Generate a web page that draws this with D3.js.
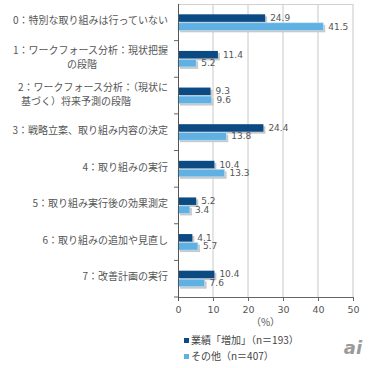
<!DOCTYPE html>
<html><head><meta charset="utf-8">
<script src="https://cdn.jsdelivr.net/npm/d3@7"></script>
<style>
body{margin:0;background:#fff;}
svg{display:block;}
</style></head>
<body><svg id="c" width="372" height="368"></svg>
<script>
const categories = [
  ["0：特別な取り組みは行っていない"],
  ["1：ワークフォース分析：現状把握","の段階"],
  ["2：ワークフォース分析：（現状に","基づく）将来予測の段階"],
  ["3：戦略立案、取り組み内容の決定"],
  ["4：取り組みの実行"],
  ["5：取り組み実行後の効果測定"],
  ["6：取り組みの追加や見直し"],
  ["7：改善計画の実行"]
];
const seriesNames = ["業績「増加」（n＝193）","その他（n＝407）"];
const increase = [24.9, 11.4, 9.3, 24.4, 10.4, 5.2, 4.1, 10.4];
const others = [41.5, 5.2, 9.6, 13.8, 13.3, 3.4, 5.7, 7.6];
const xTicks = [0, 10, 20, 30, 40, 50];
const colors = ["#0b4a83", "#5fb0e3"];

const svg = d3.select("#c");
const L = 178, R = 353, T = 4, B = 297;
const x = d3.scaleLinear().domain([0, 50]).range([L, R]);
const y = d3.scaleBand().domain(d3.range(categories.length)).range([T, B]);
const jp = "'Noto Sans CJK JP', sans-serif";
const num = "'DejaVu Sans', sans-serif";

// grid
svg.append("g").selectAll("line").data(xTicks.slice(1)).join("line")
  .attr("x1", d => x(d)).attr("x2", d => x(d)).attr("y1", T).attr("y2", B)
  .attr("stroke", "#c8c8c8").attr("stroke-width", 1);
svg.append("line").attr("x1", L).attr("x2", R).attr("y1", T + 0.5).attr("y2", T + 0.5)
  .attr("stroke", "#d0d0d0");

const bh = 7.5, gap = 1;
const rows = categories.map((c, i) => ({i, vals: [increase[i], others[i]]}));
const g = svg.append("g");
rows.forEach(r => {
  const cy = y(r.i) + y.bandwidth() / 2;
  r.vals.forEach((v, k) => {
    const by = k === 0 ? cy - bh - gap / 2 : cy + gap / 2;
    g.append("rect").attr("x", L + 2).attr("y", by + 2)
      .attr("width", x(v) - L).attr("height", bh).attr("fill", "#c9c9c9");
    g.append("rect").attr("x", L).attr("y", by)
      .attr("width", x(v) - L).attr("height", bh).attr("fill", colors[k])
      .attr("stroke", k === 1 ? "#bfe0f5" : "none").attr("stroke-width", 0.6);
    g.append("text").attr("x", x(v) + 5).attr("y", by + bh / 2 + 0.5)
      .attr("dominant-baseline", "middle")
      .attr("font-family", num).attr("font-size", 9).attr("fill", "#555")
      .text(v.toFixed(1));
  });
});

// axes
const xAxis = d3.axisBottom(x).tickValues(xTicks).tickSize(4).tickPadding(5);
const ax = svg.append("g").attr("transform", `translate(0,${B})`).call(xAxis);
ax.select(".domain").attr("stroke", "#666");
ax.selectAll(".tick line").attr("stroke", "#666");
ax.selectAll("text").attr("font-family", num).attr("font-size", 9.5).attr("fill", "#555");

const yTicks = d3.range(1, categories.length + 1).map(i => T + i * y.step());
svg.append("g").selectAll("line").data(yTicks).join("line")
  .attr("x1", L - 4).attr("x2", L).attr("y1", d => d).attr("y2", d => d)
  .attr("stroke", "#666");
svg.append("line").attr("x1", L + 0.5).attr("x2", L + 0.5).attr("y1", T).attr("y2", B + 4)
  .attr("stroke", "#555");

// category labels
const line2Center = {1: 82, 2: 76};
categories.forEach((lines, i) => {
  const cy = y(i) + y.bandwidth() / 2;
  if (lines.length === 1) {
    svg.append("text").attr("x", 168).attr("y", cy - 1).attr("text-anchor", "end")
      .attr("dominant-baseline", "middle")
      .attr("font-family", jp).attr("font-size", 10).attr("fill", "#555").text(lines[0]);
  } else {
    svg.append("text").attr("x", 168).attr("y", cy - 7.5).attr("text-anchor", "end")
      .attr("dominant-baseline", "middle")
      .attr("font-family", jp).attr("font-size", 10).attr("fill", "#555").text(lines[0]);
    svg.append("text").attr("x", line2Center[i]).attr("y", cy + 6.5).attr("text-anchor", "middle")
      .attr("dominant-baseline", "middle")
      .attr("font-family", jp).attr("font-size", 10).attr("fill", "#555").text(lines[1]);
  }
});

// unit
svg.append("text").attr("x", x(25)).attr("y", 326).attr("text-anchor", "middle")
  .attr("font-family", jp).attr("font-size", 10).attr("fill", "#555").text("（%）");

// legend
seriesNames.forEach((n, k) => {
  const ly = 341 + k * 16;
  svg.append("rect").attr("x", 184).attr("y", ly - 3).attr("width", 5).attr("height", 5).attr("fill", colors[k]);
  svg.append("text").attr("x", 191).attr("y", ly).attr("dominant-baseline", "middle")
    .attr("font-family", jp).attr("font-size", 10).attr("fill", "#444").text(n);
});

// logo
svg.append("text").attr("x", 353).attr("y", 354).attr("text-anchor", "middle")
  .attr("font-family", "'DejaVu Sans', sans-serif").attr("font-style", "italic").attr("font-weight", "bold")
  .attr("font-size", 18).attr("fill", "#9a9a9a").text("ai");
</script></body></html>
